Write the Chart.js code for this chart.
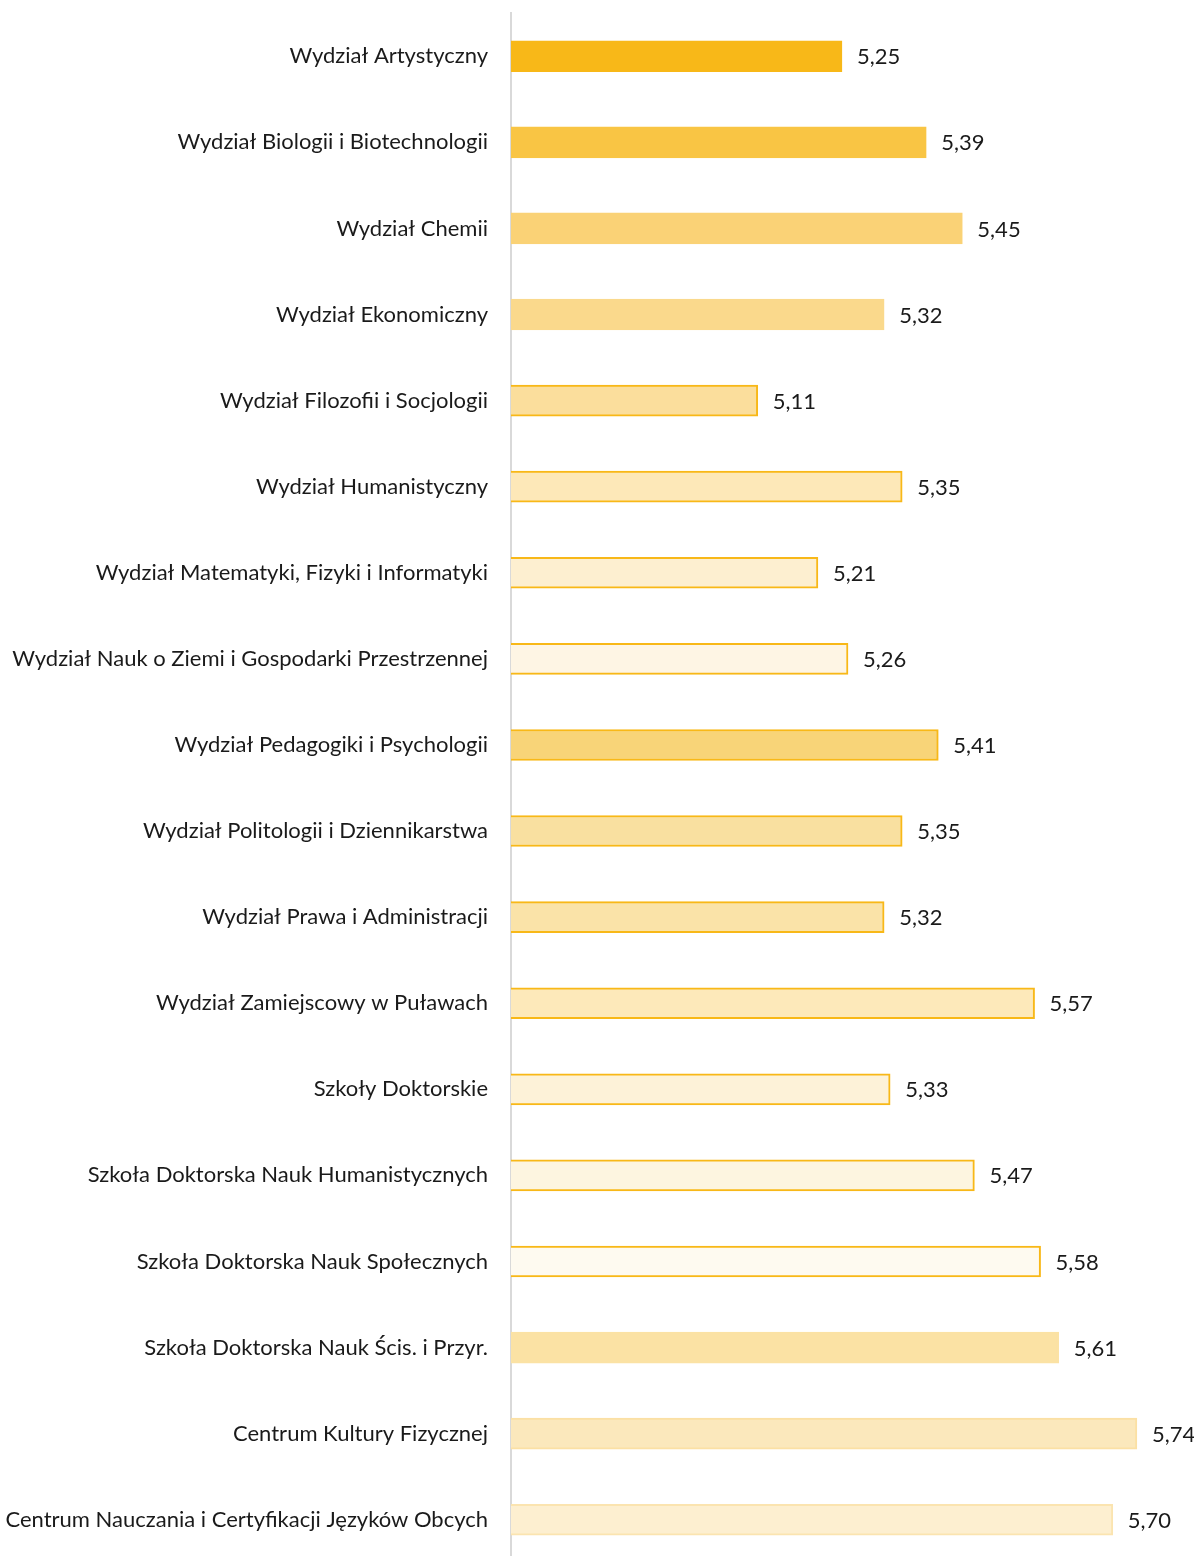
<!DOCTYPE html>
<html>
<head>
<meta charset="utf-8">
<script src="https://cdn.jsdelivr.net/npm/chart.js@4/dist/chart.umd.min.js"></script>
<style>
html,body{margin:0;padding:0;background:#fff;overflow:hidden;}
#wrap{position:relative;width:1194px;height:1576px;}
</style>
</head>
<body>
<div id="wrap"><canvas id="c" width="1194" height="1576"></canvas></div>
<script>
const categories = [
  "Wydział Artystyczny",
  "Wydział Biologii i Biotechnologii",
  "Wydział Chemii",
  "Wydział Ekonomiczny",
  "Wydział Filozofii i Socjologii",
  "Wydział Humanistyczny",
  "Wydział Matematyki, Fizyki i Informatyki",
  "Wydział Nauk o Ziemi i Gospodarki Przestrzennej",
  "Wydział Pedagogiki i Psychologii",
  "Wydział Politologii i Dziennikarstwa",
  "Wydział Prawa i Administracji",
  "Wydział Zamiejscowy w Puławach",
  "Szkoły Doktorskie",
  "Szkoła Doktorska Nauk Humanistycznych",
  "Szkoła Doktorska Nauk Społecznych",
  "Szkoła Doktorska Nauk Ścis. i Przyr.",
  "Centrum Kultury Fizycznej",
  "Centrum Nauczania i Certyfikacji Języków Obcych"
];
const values = [5.25, 5.39, 5.45, 5.32, 5.11, 5.35, 5.21, 5.26, 5.41, 5.35, 5.32, 5.57, 5.33, 5.47, 5.58, 5.61, 5.74, 5.70];
const fillColors = ["#F8B818","#F9C544","#FAD276","#FAD98C","#FBDE9C","#FDE8B8","#FDEFD0","#FEF5E4","#F8D478","#F9E0A0","#FAE3A8","#FDE9BA","#FDF2D8","#FDF5E0","#FEFAF0","#FBE2A4","#FBE8BC","#FDEFD0"];
const borderColors = ["#F8B818","#F9C544","#FAD276","#FAD98C","#F8B818","#F8B818","#F8B818","#F8B818","#F8B818","#F8B818","#F8B818","#F8B818","#F8B818","#F8B818","#F8B818","#FBE2A4","#FBE0A4","#FBE4B0"];

const FONT = "Lato, 'Open Sans', sans-serif";

const valueLabels = {
  id: 'valueLabels',
  afterDatasetsDraw(chart) {
    const ctx = chart.ctx;
    const meta = chart.getDatasetMeta(0);
    ctx.save();
    ctx.font = "22px " + FONT;
    ctx.fillStyle = "#1a1a1a";
    ctx.textAlign = "left";
    ctx.textBaseline = "middle";
    meta.data.forEach((bar, i) => {
      const txt = values[i].toFixed(2).replace('.', ',');
      ctx.fillText(txt, bar.x + 15, bar.y + 1);
    });
    ctx.restore();
  }
};

new Chart(document.getElementById('c'), {
  type: 'bar',
  data: {
    labels: categories,
    datasets: [{
      data: values,
      backgroundColor: fillColors,
      borderColor: borderColors,
      borderWidth: 2,
      borderSkipped: false,
      barThickness: 31
    }]
  },
  options: {
    indexAxis: 'y',
    responsive: false,
    animation: false,
    layout: { padding: { top: 0, right: 21, bottom: 0, left: 0 } },
    plugins: { legend: { display: false }, tooltip: { enabled: false } },
    scales: {
      x: {
        display: false,
        min: 4.7,
        max: 5.8
      },
      y: {
        afterFit(scale) { scale.width = 511; },
        grid: { display: false, drawTicks: true, tickLength: 23 },
        border: { display: true, color: "#D9D9D9", width: 2 },
        ticks: {
          padding: 0,
          color: "#1a1a1a",
          font: { family: FONT, size: 22 },
          autoSkip: false
        }
      }
    }
  },
  plugins: [valueLabels]
});
</script>
</body>
</html>
